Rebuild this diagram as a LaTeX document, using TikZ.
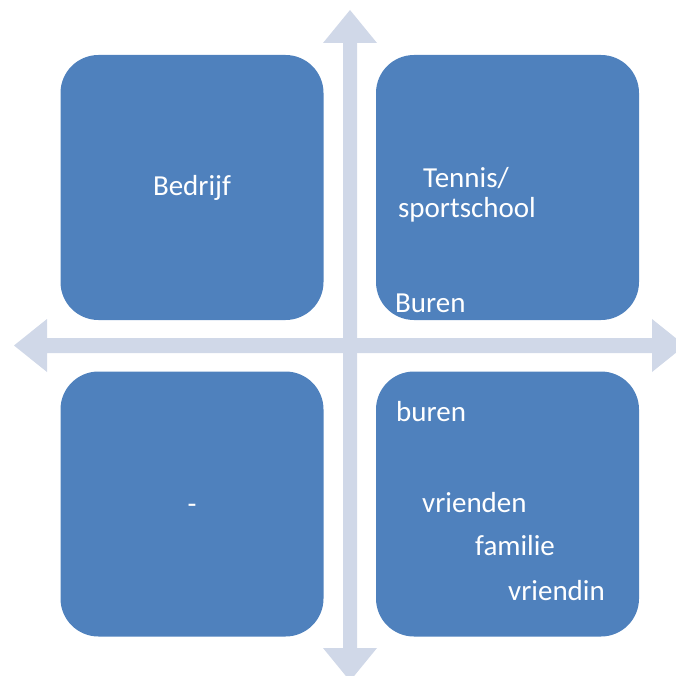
\documentclass[tikz,border=0pt]{standalone}
\usepackage{fontspec}
\setmainfont{Carlito}
\definecolor{vlak}{HTML}{4F81BD}
\definecolor{as}{HTML}{D0D8E8}
\begin{document}
\begin{tikzpicture}[x=1pt,y=-1pt,
	vak/.style={draw=none, fill=vlak, rounded corners=38pt, minimum width=263pt, minimum height=265pt, inner sep=0pt},
	tekst/.style={text=white, font=\fontsize{29}{35}\selectfont, inner sep=0pt}]
	\useasboundingbox (0,0) rectangle (676,676);
	\clip (0,0) rectangle (676,676);
	% assen
	\fill[as] (343,43) -- (323,43) -- (350,10) -- (377,43) -- (357,43) -- (357,648) -- (377,648) -- (350,681) -- (323,648) -- (343,648) -- cycle;
	\fill[as] (47,338) -- (47,319) -- (14,345.5) -- (47,372) -- (47,353) -- (652,353) -- (652,372) -- (685,345.5) -- (652,319) -- (652,338) -- cycle;
	% vakken
	\node (lb) [vak] at (192,187.5) {};
	\node (rb) [vak] at (507.5,187.5) {};
	\node (lo) [vak] at (192,504) {};
	\node (ro) [vak] at (507.5,504) {};
	% teksten
	\node (bedrijf) [tekst, anchor=base] at (192,196) {Bedrijf};
	\node (tennis) [tekst, anchor=base] at (466,188) {Tennis/};
	\node (sport) [tekst, anchor=base] at (467,218) {sportschool};
	\node (Buren) [tekst, anchor=base west] at (395,312) {Buren};
	\node (buren) [tekst, anchor=base west] at (396,421) {buren};
	\node (streep) [tekst, anchor=base] at (192,513) {-};
	\node (vrienden) [tekst, anchor=base west] at (422,512) {vrienden};
	\node (familie) [tekst, anchor=base west] at (475,555) {familie};
	\node (vriendin) [tekst, anchor=base west] at (508,600) {vriendin};
\end{tikzpicture}
\end{document}
